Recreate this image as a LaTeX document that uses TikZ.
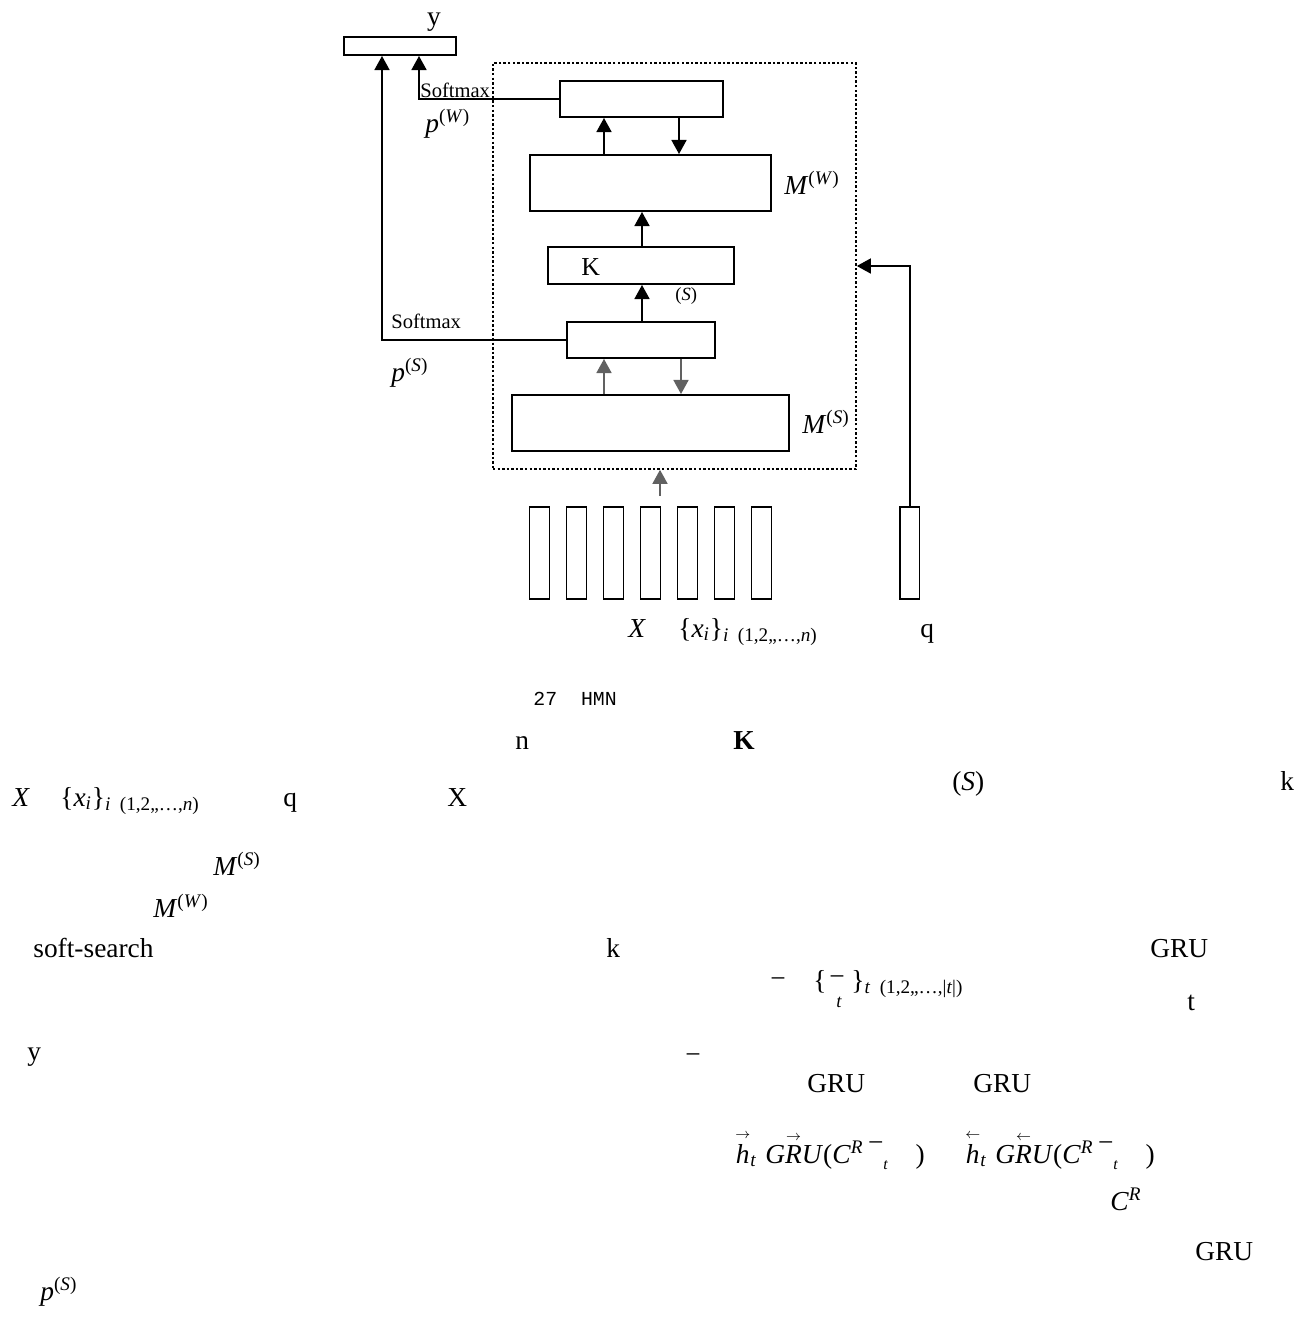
\documentclass[tikz,border=0pt]{standalone}
\usepackage{amsmath}
\usepackage{fontspec}
\setmainfont{Liberation Serif}
\newfontfamily\capmono{Liberation Mono}
\usepackage{tikz}
\usetikzlibrary{arrows.meta, fit, positioning}

\newcommand{\vi}[1]{\textit{#1}}
\newcommand{\rvec}[1]{$\overset{\scriptscriptstyle\rightarrow}{\text{\itshape #1}}$}
\newcommand{\lvec}[1]{$\overset{\scriptscriptstyle\leftarrow}{\text{\itshape #1}}$}
% C^R 后接横线与下标 t
\newcommand{\crbar}{(\vi{C}\textsuperscript{\vi{R}}\,\raisebox{0.9ex}{−}\raisebox{-0.5ex}{\fontsize{9}{10}\selectfont\vi{t}}\hspace{1.0em})}

\begin{document}
\begin{tikzpicture}[
    x=0.02cm, y=-0.02cm,
    >={Triangle[length=8pt, width=8.5pt]},
    box/.style={draw, line width=1.1pt, inner sep=0pt},
    memframe/.style={draw, line width=0.9pt, dash pattern=on 1.4pt off 1.2pt, inner sep=0pt},
    flow/.style={->, line width=1.1pt},
    faint/.style={->, line width=1.1pt, draw=black!62, fill=black!62},
    txt/.style={inner sep=0pt, anchor=base west, font=\fontsize{15.6}{18}\selectfont},
    small/.style={inner sep=0pt, anchor=base west, font=\fontsize{11.7}{14}\selectfont},
    tiny/.style={inner sep=0pt, anchor=base west, font=\fontsize{10.6}{12}\selectfont},
    capt/.style={inner sep=0pt, anchor=base west, font=\capmono\fontsize{11.3}{13}\selectfont}
]
\useasboundingbox (0,0) rectangle (1309,1319);

% === 网络框 ===
\node[box, fit={(344,37) (456,55)}] (ybox) {};
\node[memframe, fit={(493,63) (856,469)}] (mem) {};
\node[box, fit={(560,81) (723,117)}] (wsm) {};
\node[box, fit={(530,155) (771,211)}] (mw) {};
\node[box, fit={(548,247) (734,284)}] (kbox) {};
\node[box, fit={(567,322) (715,358)}] (ssm) {};
\node[box, fit={(512,395) (789,451)}] (ms) {};

% === 输入向量 X 与 q ===
\foreach \i in {0,...,6}
    \node[box, fit={({529.5+37*\i},507) ({549.5+37*\i},599)}] (x\i) {};
\node[box, fit={(900,507) (919.5,599)}] (qv) {};

% === 连线 ===
\coordinate (cup) at (604,0);
\coordinate (cdw) at (679,0);
\coordinate (cmid) at (642,0);
\coordinate (csd) at (681,0);
\coordinate (cyS) at (382,0);
\coordinate (cyW) at (419,0);
\coordinate (cin) at (660,496);

\draw[flow] (cup |- mw.north) -- (cup |- wsm.south);
\draw[flow] (cdw |- wsm.south) -- (cdw |- mw.north);
\draw[flow] (cmid |- kbox.north) -- (cmid |- mw.south);
\draw[flow] (cmid |- ssm.north) -- (cmid |- kbox.south);
\draw[faint] (cup |- ms.north) -- (cup |- ssm.south);
\draw[faint] (csd |- ssm.south) -- (csd |- ms.north);
\draw[faint] (cin) -- (cin |- mem.south);
\draw[flow] (qv.north) |- (mem.east);
\draw[flow] (ssm.west) -| (cyS |- ybox.south);
\draw[flow] (wsm.west) -| (cyW |- ybox.south);

% === 图中标注 ===
\node[txt, anchor=base] (ylab) at (434,25) {y};
\node[small] (smW) at (420,97) {Softmax};
\node[txt] (pW) at (425,132) {\vi{p}\textsuperscript{(\vi{W})}};
\node[txt] (mWlab) at (784,194) {\vi{M}\textsuperscript{(\vi{W})}};
\node[txt, font=\fontsize{14.7}{17}\selectfont] (klab) at (581,275) {K};
\node[tiny] (slab) at (675,300) {(\vi{S})};
\node[small] (smS) at (391,328) {Softmax};
\node[txt] (pS) at (391,381) {\vi{p}\textsuperscript{(\vi{S})}};
\node[txt] (mSlab) at (802,433) {\vi{M}\textsuperscript{(\vi{S})}};
\node[txt] (xlab) at (628,637) {\vi{X}};
\node[txt] (xset) at (678,637) {\{\vi{x}\textsubscript{\vi{i}}\}\textsubscript{\vi{i}\ \ (1,2,,\ldots,\vi{n})}};
\node[txt] (qlab) at (920,637) {q};
\node[capt] (figcap) at (533,705) {27\ \ HMN};

% === 正文片段 ===
\node[txt] (t1) at (515,749) {n};
\node[txt] (t2) at (733,749) {\textbf{K}};
\node[txt] (t3) at (952,790) {(\vi{S})};
\node[txt] (t4) at (1280,790) {k};
\node[txt] (t5) at (12,806) {\vi{X}};
\node[txt] (t6) at (60,806) {\{\vi{x}\textsubscript{\vi{i}}\}\textsubscript{\vi{i}\ \ (1,2,,\ldots,\vi{n})}};
\node[txt] (t7) at (283,806) {q};
\node[txt] (t8) at (447,806) {X};
\node[txt] (t9) at (213,875) {\vi{M}\textsuperscript{(\vi{S})}};
\node[txt] (t10) at (153,917) {\vi{M}\textsuperscript{(\vi{W})}};
\node[txt] (t11) at (33,957) {soft-search};
\node[txt] (t12) at (606,957) {k};
\node[txt] (t13) at (1150,957) {GRU};
\node[txt] (t14) at (770,987) {−};
\node[txt] (t15a) at (813,989) {\{};
\node[txt] (t15b) at (829,985) {−};
\node[tiny] (t15c) at (836,1007) {\vi{t}};
\node[txt] (t15d) at (851,989) {\}\textsubscript{\vi{t}\ \ (1,2,,\ldots,|\vi{t}|)}};
\node[txt] (t16) at (1187,1010) {t};
\node[txt] (t17) at (27,1060) {y};
\node[txt] (t18) at (685,1063) {−};
\node[txt] (t19) at (807,1092) {GRU};
\node[txt] (t20) at (973,1092) {GRU};
\node[txt] (t21) at (735,1163) {\rvec{h}\textsubscript{\vi{t}}};
\node[txt] (t22) at (765,1163) {\vi{G}\rvec{R}\vi{U}\crbar};
\node[txt] (t23) at (965,1163) {\lvec{h}\textsubscript{\vi{t}}};
\node[txt] (t24) at (995,1163) {\vi{G}\lvec{R}\vi{U}\crbar};
\node[txt] (t25) at (1110,1210) {\vi{C}\textsuperscript{\vi{R}}};
\node[txt] (t26) at (1195,1260) {GRU};
\node[txt] (t27) at (40,1300) {\vi{p}\textsuperscript{(\vi{S})}};

\end{tikzpicture}
\end{document}
